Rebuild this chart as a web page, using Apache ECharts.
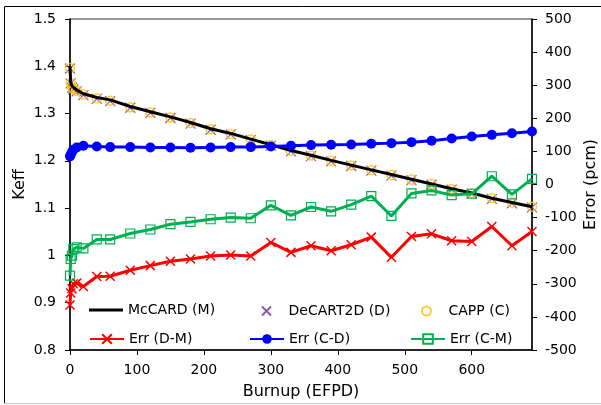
<!DOCTYPE html>
<html>
<head>
<meta charset="utf-8">
<script src="https://cdn.jsdelivr.net/npm/echarts@6/dist/echarts.min.js"></script>
<style>
html,body{margin:0;padding:0;background:#fff;}
#chart{width:601px;height:405px;}
</style>
</head>
<body>
<div id="chart"></div>
<script>
var burnup = [0,1,3,5,10,20,40,60,90,120,150,180,210,240,270,300,330,360,390,420,450,480,510,540,570,600,630,660,690];
var keffMcCARD = [1.399,1.367,1.358,1.354,1.350,1.342,1.334,1.329,1.315,1.304,1.293,1.281,1.268,1.258,1.246,1.234,1.222,1.212,1.201,1.191,1.181,1.171,1.161,1.151,1.141,1.132,1.121,1.112,1.103];
var keffDeCART = [1.3954,1.3637,1.3549,1.3510,1.3470,1.3389,1.3312,1.3262,1.3124,1.3016,1.2907,1.2788,1.2658,1.2559,1.2438,1.2323,1.2200,1.2101,1.1990,1.1892,1.1794,1.1688,1.1594,1.1495,1.1393,1.1303,1.1197,1.1101,1.1016];
var keffCAPP = [1.3963,1.3648,1.3559,1.3521,1.3481,1.3401,1.3323,1.3273,1.3135,1.3026,1.2918,1.2799,1.2670,1.2570,1.2450,1.2334,1.2211,1.2113,1.2002,1.1904,1.1807,1.1701,1.1607,1.1508,1.1407,1.1317,1.1213,1.1117,1.1032];
var errDM = [-364,-328,-315,-300,-298,-308,-278,-277,-259,-245,-232,-225,-216,-213,-216,-175,-205,-185,-200,-182,-159,-220,-157,-149,-170,-172,-127,-185,-142];
var errCD = [85,90,98,105,112,117,115,113,113,112,112,111,112,113,113,115,117,119,120,121,123,125,128,132,139,145,150,155,160];
var errCM = [-275,-225,-215,-195,-190,-193,-166,-166,-148,-136,-120,-113,-105,-100,-102,-63,-93,-68,-81,-61,-35,-95,-27,-18,-32,-28,25,-30,17];
var seriesNames = ['McCARD (M)','DeCART2D (D)','CAPP (C)','Err (D-M)','Err (C-D)','Err (C-M)'];

function pairs(ys){ return burnup.map(function(x,i){ return [x, ys[i]]; }); }

var FONT = 'DejaVu Sans';
var crossPath = 'path://M0,0L10,10M10,0L0,10';

function legendAt(item, left, top, ih){
  return {
    data: [item], left: left, top: top, padding: 0,
    itemWidth: 34, itemHeight: ih || 12, itemGap: 5,
    textStyle: {fontFamily: FONT, fontSize: 14, color: '#000'},
    selectedMode: false
  };
}

var chart = echarts.init(document.getElementById('chart'), null, {renderer: 'canvas'});
chart.setOption({
  animation: false,
  backgroundColor: '#fff',
  graphic: [{
    type: 'polyline', silent: true,
    shape: {points: [[4.5,404],[4.5,6.5],[601,6.5]]},
    style: {stroke: '#000', lineWidth: 1, fill: 'none'}
  },{
    type: 'line', silent: true,
    shape: {x1: 4, y1: 403.5, x2: 601, y2: 403.5},
    style: {stroke: '#c8c8c8', lineWidth: 1}
  }],
  grid: {left: 70, right: 69, top: 19, bottom: 55, show: true, borderColor: '#333', borderWidth: 1,
         backgroundColor: 'transparent', containLabel: false, outerBoundsMode: 'none'},
  legend: [
    legendAt({name: seriesNames[0], icon: 'rect'}, 89, 303, 3),
    legendAt(seriesNames[1], 261, 304, 9),
    legendAt(seriesNames[2], 421, 304, 9),
    legendAt(seriesNames[3], 89, 332),
    legendAt(seriesNames[4], 249, 332),
    legendAt(seriesNames[5], 410, 332)
  ],
  xAxis: {
    type: 'value', min: 0, max: 690, interval: 100,
    name: 'Burnup (EFPD)', nameLocation: 'middle', nameGap: 34, nameMoveOverlap: false,
    nameTextStyle: {fontFamily: FONT, fontSize: 16, color: '#000'},
    axisLine: {show: true, onZero: false, lineStyle: {color: '#000', width: 1.5}},
    axisTick: {show: true, inside: false, length: 5, lineStyle: {color: '#000', width: 1}},
    axisLabel: {fontFamily: FONT, fontSize: 14, color: '#000', margin: 13, showMaxLabel: false},
    splitLine: {show: false}
  },
  yAxis: [{
    type: 'value', min: 0.8, max: 1.5, interval: 0.1, position: 'left',
    name: 'Keff', nameLocation: 'middle', nameGap: 42, nameMoveOverlap: false,
    nameTextStyle: {fontFamily: FONT, fontSize: 16, color: '#000'},
    axisLine: {show: true, onZero: false, lineStyle: {color: '#000', width: 1.5}},
    axisTick: {show: true, inside: false, length: 5, lineStyle: {color: '#000', width: 1}},
    axisLabel: {fontFamily: FONT, fontSize: 14, color: '#000', margin: 14},
    splitLine: {show: false}
  },{
    type: 'value', min: -500, max: 500, interval: 100, position: 'right',
    name: 'Error (pcm)', nameLocation: 'middle', nameGap: 51, nameMoveOverlap: false,
    nameTextStyle: {fontFamily: FONT, fontSize: 16, color: '#000'},
    axisLine: {show: true, onZero: false, lineStyle: {color: '#000', width: 1.5}},
    axisTick: {show: true, inside: false, length: 5, lineStyle: {color: '#000', width: 1}},
    axisLabel: {fontFamily: FONT, fontSize: 14, color: '#000', margin: 13},
    splitLine: {show: false}
  }],
  series: [{
    name: seriesNames[0], type: 'line', yAxisIndex: 0, data: pairs(keffMcCARD),
    symbol: 'none', showSymbol: false, color: '#000',
    lineStyle: {color: '#000', width: 3}
  },{
    name: seriesNames[1], type: 'scatter', yAxisIndex: 0, data: pairs(keffDeCART),
    symbol: crossPath, symbolSize: 10, color: '#7030A0',
    itemStyle: {color: '#7030A0', borderColor: '#7030A0', borderWidth: 1.2}
  },{
    name: seriesNames[2], type: 'scatter', yAxisIndex: 0, data: pairs(keffCAPP),
    symbol: 'circle', symbolSize: 9, color: '#FFC000',
    itemStyle: {color: 'rgba(0,0,0,0)', borderColor: '#FFC000', borderWidth: 1.5}
  },{
    name: seriesNames[3], type: 'line', yAxisIndex: 1, data: pairs(errDM),
    symbol: crossPath, symbolSize: 9, showSymbol: true, color: '#FF0000',
    lineStyle: {color: '#FF0000', width: 3},
    itemStyle: {color: '#FF0000', borderColor: '#FF0000', borderWidth: 1.5}
  },{
    name: seriesNames[4], type: 'line', yAxisIndex: 1, data: pairs(errCD),
    symbol: 'circle', symbolSize: 10, showSymbol: true, color: '#0000FF',
    lineStyle: {color: '#0000FF', width: 3},
    itemStyle: {color: '#0000FF', borderColor: '#0000FF', borderWidth: 0}
  },{
    name: seriesNames[5], type: 'line', yAxisIndex: 1, data: pairs(errCM),
    symbol: 'rect', symbolSize: 9, showSymbol: true, color: '#00B050',
    lineStyle: {color: '#00B050', width: 3},
    itemStyle: {color: 'rgba(0,0,0,0)', borderColor: '#00B050', borderWidth: 1.2}
  }]
});
</script>
</body>
</html>
